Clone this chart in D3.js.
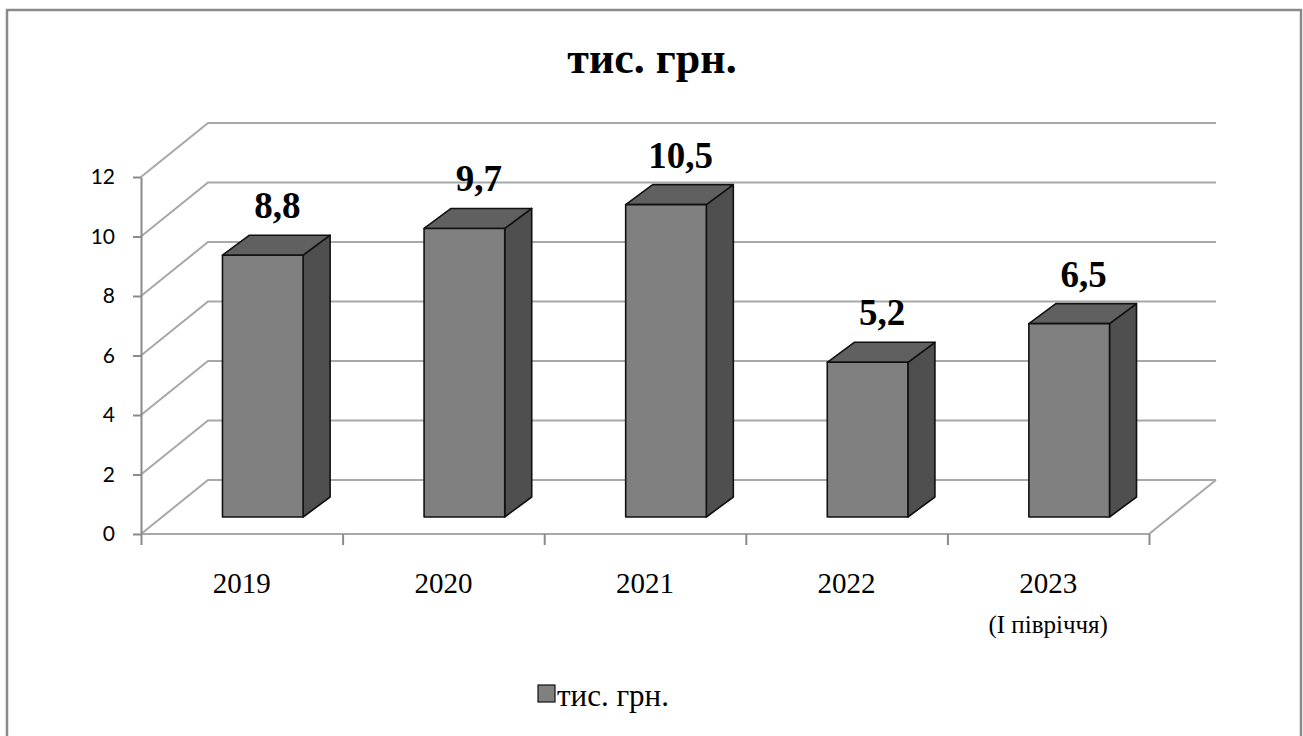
<!DOCTYPE html>
<html lang="uk">
<head>
<meta charset="utf-8">
<script src="https://cdn.jsdelivr.net/npm/d3@7"></script>
<style>
  html, body { margin: 0; padding: 0; background: #fff; }
  svg { display: block; }
</style>
</head>
<body>
<svg id="chart" width="1303" height="736"></svg>
<script>
// Annual amounts, thousand UAH
const categories = ["2019", "2020", "2021", "2022", "2023"];
const subLabels = ["", "", "", "", "(І півріччя)"];
const values = [8.8, 9.7, 10.5, 5.2, 6.5];
const valueLabels = ["8,8", "9,7", "10,5", "5,2", "6,5"];
const yTicks = [0, 2, 4, 6, 8, 10, 12];
const seriesName = "тис. грн.";
const chartTitle = "тис. грн.";

(function () {
const svg = d3.select("#chart");
const serif = "'Times New Roman', 'Liberation Serif', Tinos, 'DejaVu Serif', 'Noto Serif', FreeSerif, serif";

// plot frame (front plane) and the oblique depth of the 3-D box
const plotLeft = 141, plotRight = 1149, plotBase = 534, plotTop = 177;
const depthX = 67, depthY = 54;        // floor / wall depth
const barOffX = 21, barOffY = 17;      // bar front face inset into the box
const barDX = 27, barDY = 20;          // bar depth

const y = d3.scaleLinear().domain([0, 12]).range([plotBase, plotTop]);
const x = d3.scaleBand().domain(categories).range([plotLeft, plotRight])
  .paddingInner(0.6).paddingOuter(0.3);
const xEdge = d3.scaleLinear().domain([0, categories.length]).range([plotLeft, plotRight]);

// outer border
svg.append("rect")
  .attr("x", 7).attr("y", 10).attr("width", 1294).attr("height", 740)
  .attr("fill", "none").attr("stroke", "#8a8a8a").attr("stroke-width", 2.5);

// title
svg.append("text")
  .attr("x", 652).attr("y", 73)
  .attr("text-anchor", "middle")
  .style("font-family", serif).attr("font-weight", "bold").attr("font-size", 44)
  .text(chartTitle);

// gridlines on the side and back walls
const grid = svg.append("g").attr("fill", "none")
  .attr("stroke", "#a8a8a8").attr("stroke-width", 2);
yTicks.forEach(v => {
  const p = d3.path();
  p.moveTo(plotLeft, y(v));
  p.lineTo(plotLeft + depthX, y(v) - depthY);
  p.lineTo(plotRight + depthX, y(v) - depthY);
  grid.append("path").attr("d", p.toString());
});
// floor front and right edges
{
  const p = d3.path();
  p.moveTo(plotLeft, y(0));
  p.lineTo(plotRight, y(0));
  p.lineTo(plotRight + depthX, y(0) - depthY);
  grid.append("path").attr("d", p.toString());
}

// value axis
const yAxis = svg.append("g")
  .attr("transform", `translate(${plotLeft},0)`)
  .call(d3.axisLeft(y).tickValues(yTicks).tickSize(8).tickPadding(18).tickSizeOuter(0));
yAxis.select(".domain").attr("stroke", "#8a8a8a").attr("stroke-width", 2);
yAxis.selectAll(".tick line").attr("stroke", "#8a8a8a").attr("stroke-width", 2);
yAxis.selectAll(".tick text")
  .style("font-family", "Lato, 'Open Sans', sans-serif")
  .attr("font-size", 21).attr("fill", "#000");

// category axis ticks at band boundaries
const xAxis = svg.append("g")
  .attr("transform", `translate(0,${plotBase})`)
  .call(d3.axisBottom(xEdge).tickValues(d3.range(categories.length + 1))
    .tickFormat("").tickSize(11).tickSizeOuter(0));
xAxis.select(".domain").remove();
xAxis.selectAll(".tick line").attr("stroke", "#8a8a8a").attr("stroke-width", 2);

// category labels
const catLabels = svg.append("g")
  .style("font-family", serif).attr("text-anchor", "middle").attr("fill", "#000");
categories.forEach((c, i) => {
  const cx = x(c) + x.bandwidth() / 2;
  catLabels.append("text").attr("x", cx).attr("y", 593)
    .attr("font-size", 29).text(c);
  if (subLabels[i]) {
    catLabels.append("text").attr("x", cx).attr("y", 633)
      .attr("font-size", 25).text(subLabels[i]);
  }
});

// 3-D bars
const bars = svg.append("g")
  .attr("stroke", "#111").attr("stroke-width", 1.6).attr("stroke-linejoin", "round");
categories.forEach((c, i) => {
  const x0 = x(c) + barOffX;
  const x1 = x0 + x.bandwidth();
  const yb = y(0) - barOffY;
  const yt = y(values[i]) - barOffY;
  // right side
  bars.append("path").attr("fill", "#4f4f4f")
    .attr("d", `M${x1},${yt}L${x1 + barDX},${yt - barDY}L${x1 + barDX},${yb - barDY}L${x1},${yb}Z`);
  // top
  bars.append("path").attr("fill", "#606060")
    .attr("d", `M${x0},${yt}L${x0 + barDX},${yt - barDY}L${x1 + barDX},${yt - barDY}L${x1},${yt}Z`);
  // front
  bars.append("rect").attr("fill", "#808080")
    .attr("x", x0).attr("y", yt).attr("width", x1 - x0).attr("height", yb - yt);
  // value label
  svg.append("text")
    .attr("x", x0 + (x1 - x0 + barDX) / 2 + 1)
    .attr("y", yt - 37)
    .attr("text-anchor", "middle")
    .style("font-family", serif).attr("font-weight", "bold").attr("font-size", 37)
    .text(valueLabels[i]);
});

// legend
const legend = svg.append("g").attr("transform", "translate(538,685)");
legend.append("rect").attr("x", 0).attr("y", 0).attr("width", 17).attr("height", 17)
  .attr("fill", "#808080").attr("stroke", "#111").attr("stroke-width", 1.2);
legend.append("text").attr("x", 19).attr("y", 21)
  .style("font-family", serif).attr("font-size", 31).attr("fill", "#000")
  .text(seriesName);
})();
</script>
</body>
</html>
